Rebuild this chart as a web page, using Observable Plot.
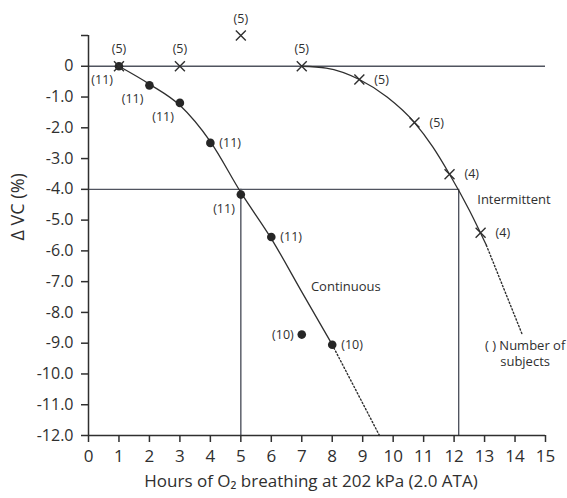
<!DOCTYPE html>
<html>
<head>
<meta charset="utf-8">
<script src="https://cdn.jsdelivr.net/npm/d3@7"></script>
<script src="https://cdn.jsdelivr.net/npm/@observablehq/plot@0.6"></script>
<style>
  html, body { margin: 0; padding: 0; background: #fff; }
  #chart svg { display: block; }
</style>
</head>
<body>
<div id="chart"></div>
<script>
// Continuous O2 breathing: mean change in vital capacity (%) per hour, with number of subjects
const contHours = [1, 2, 3, 4, 5, 6, 7, 8];
const contDeltaVC = [0, -0.62, -1.19, -2.49, -4.17, -5.55, -8.72, -9.05];
const contSubjects = [11, 11, 11, 11, 11, 11, 10, 10];

// Intermittent O2 breathing
const intHours = [1, 3, 5, 7, 8.89, 10.7, 11.85, 12.87];
const intDeltaVC = [0, 0, 1.0, 0, -0.43, -1.83, -3.51, -5.41];
const intSubjects = [5, 5, 5, 5, 5, 5, 4, 4];

// Fitted curves (solid) and their extrapolations (dotted)
const contFitHours = [1, 2, 3, 4, 5, 6, 7, 8];
const contFitVC = [0, -0.58, -1.27, -2.45, -4.1, -5.6, -7.33, -9.05];
const contExtHours = [8, 9.55];
const contExtVC = [-9.05, -12];
const intFitHours = [7, 7.8, 8.89, 9.8, 10.7, 11.3, 11.85, 12.5, 13.06];
const intFitVC = [0, -0.06, -0.43, -1.0, -1.83, -2.62, -3.51, -4.68, -5.82];
const intExtHours = [13.06, 14.23];
const intExtVC = [-5.82, -8.7];

// 4 % decrement and the exposure times at which each curve reaches it
const thresholdVC = -4;
const thresholdHours = [5, 12.15];

// Axis ticks
const xTicks = [0, 1, 2, 3, 4, 5, 6, 7, 8, 9, 10, 11, 12, 13, 14, 15];
const yTicks = [1, 0, -1, -2, -3, -4, -5, -6, -7, -8, -9, -10, -11, -12];
const yTickLabels = ["", "0", "-1.0", "-2.0", "-3.0", "-4.0", "-5.0", "-6.0", "-7.0", "-8.0", "-9.0", "-10.0", "-11.0", "-12.0"];

// Text annotations
const curveNames = ["Continuous", "Intermittent"];
const curveNameHours = [7.3, 12.76];
const curveNameVC = [-7.18, -4.33];
const keyText = "( ) Number of\nsubjects";
const keyHours = 14.33;
const keyVC = -9.32;
const xTitle = "Hours of O\u2082 breathing at 202 kPa (2.0 ATA)";
const yTitle = "\u0394 VC (%)";

// where each count label sits relative to its marker
const contLabelSide = ["lowerLeft", "lowerLeft", "lowerLeft", "right", "lowerLeft", "right", "left", "right"];
const intLabelSide = ["above", "above", "above", "above", "farRight", "farRight", "farRight", "farRight"];

const cont = contHours.map((h, i) => ({h, v: contDeltaVC[i], n: contSubjects[i], side: contLabelSide[i]}));
const inter = intHours.map((h, i) => ({h, v: intDeltaVC[i], n: intSubjects[i], side: intLabelSide[i]}));
const zip = (xs, ys) => xs.map((h, i) => ({h, v: ys[i]}));
const names = curveNames.map((t, i) => ({t, h: curveNameHours[i], v: curveNameVC[i]}));

const font = "'Open Sans', 'Noto Sans', sans-serif";
const ink = "#2f2f2f";
const ruleInk = "#50545f";

const sides = {
  lowerLeft: {dx: -6, dy: 14, textAnchor: "end"},
  right: {dx: 9, dy: 0, textAnchor: "start"},
  left: {dx: -8, dy: 0, textAnchor: "end"},
  above: {dx: 0, dy: -17, textAnchor: "middle"},
  farRight: {dx: 15, dy: 0, textAnchor: "start"}
};
const countLabels = (rows) => Object.entries(sides).map(([key, o]) =>
  Plot.text(rows.filter(d => d.side === key), {
    x: "h", y: "v", text: d => `(${d.n})`,
    dx: o.dx, dy: o.dy, textAnchor: o.textAnchor,
    fontSize: 12.5, fill: ink
  })
);

const chart = Plot.plot({
  width: 567,
  height: 498,
  marginLeft: 88,
  marginRight: 22,
  marginTop: 35,
  marginBottom: 63,
  style: {fontFamily: font, background: "#fff", color: ink, overflow: "visible"},
  x: {domain: [0, 15]},
  y: {domain: [-12, 1]},
  marks: [
    // reference lines
    Plot.ruleY([0], {x1: 0, x2: 15, stroke: ruleInk, strokeWidth: 1.6}),
    Plot.ruleY([thresholdVC], {x1: 0, x2: thresholdHours[1], stroke: ruleInk, strokeWidth: 1.4}),
    Plot.ruleX(thresholdHours, {y1: -12, y2: thresholdVC, stroke: ruleInk, strokeWidth: 1.4}),
    // axes
    Plot.ruleX([0], {y1: -12, y2: 1, stroke: ink, strokeWidth: 1.5}),
    Plot.ruleY([-12], {x1: 0, x2: 15, stroke: ink, strokeWidth: 1.5}),
    Plot.axisX({ticks: xTicks, tickSize: 7, tickPadding: 7, fontSize: 17, label: null, stroke: ink, strokeWidth: 1.5}),
    Plot.axisY({ticks: yTicks, tickFormat: d => yTickLabels[yTicks.indexOf(d)], tickSize: 7, tickPadding: 8, fontSize: 16, label: null, stroke: ink, strokeWidth: 1.5}),
    // fitted curves
    Plot.line(zip(contFitHours, contFitVC), {x: "h", y: "v", curve: "monotone-x", stroke: ink, strokeWidth: 1.3}),
    Plot.line(zip(contExtHours, contExtVC), {x: "h", y: "v", stroke: ink, strokeWidth: 1.4, strokeDasharray: "1.4,2.2"}),
    Plot.line(zip(intFitHours, intFitVC), {x: "h", y: "v", curve: "monotone-x", stroke: ink, strokeWidth: 1.3}),
    Plot.line(zip(intExtHours, intExtVC), {x: "h", y: "v", stroke: ink, strokeWidth: 1.4, strokeDasharray: "1.4,2.2"}),
    // observations
    Plot.dot(cont, {x: "h", y: "v", r: 4.3, fill: "#262626", stroke: "none"}),
    Plot.dot(inter, {x: "h", y: "v", symbol: "times", r: 4.6, stroke: ink, strokeWidth: 1.4}),
    ...countLabels(cont),
    ...countLabels(inter),
    // annotations
    Plot.text(names, {x: "h", y: "v", text: "t", textAnchor: "start", fontSize: 13, fill: ink}),
    Plot.text([keyText], {x: keyHours, y: keyVC, textAnchor: "middle", lineHeight: 1.25, fontSize: 13, fill: ink}),
    Plot.text([xTitle], {frameAnchor: "bottom", dy: 51, dx: -6, fontSize: 17, fill: ink}),
    Plot.text([yTitle], {frameAnchor: "left", dx: -70, dy: 5, rotate: -90, fontSize: 18, fill: ink})
  ]
});

document.getElementById("chart").appendChild(chart);
</script>
</body>
</html>
